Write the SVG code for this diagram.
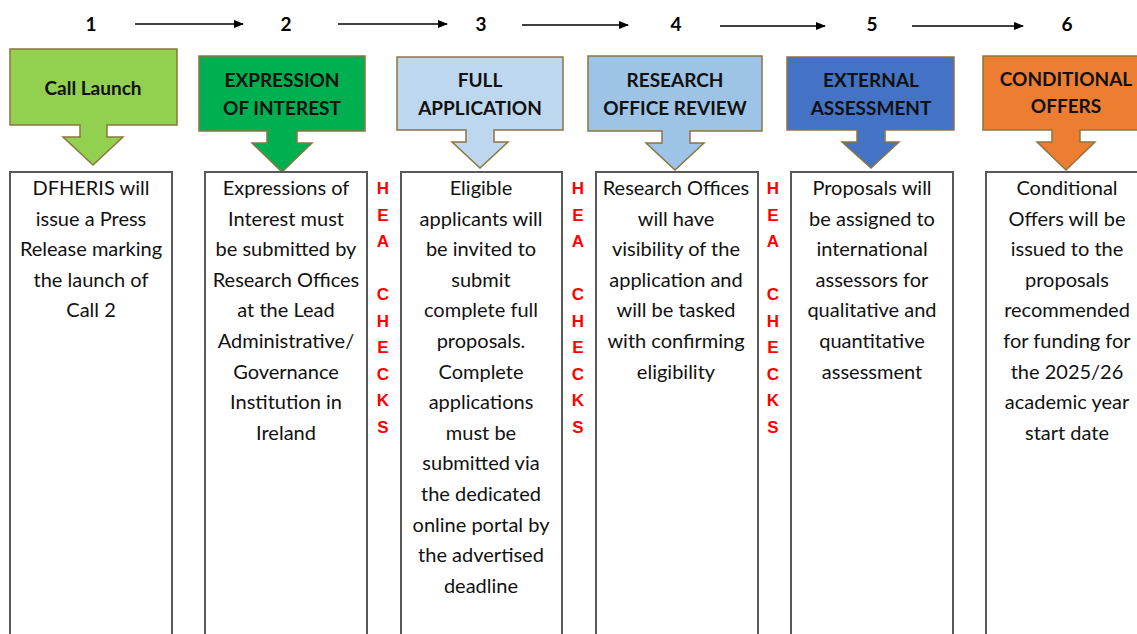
<svg xmlns="http://www.w3.org/2000/svg" width="1137" height="634" viewBox="0 0 1137 634">
<style>
.num{font-family:Lato,"Liberation Sans",sans-serif;font-weight:bold;font-size:19px;fill:#000;text-anchor:middle}
.hd{font-family:Lato,"Liberation Sans",sans-serif;font-weight:bold;font-size:19px;fill:#111;text-anchor:middle}
.co{stroke:#8a7540;stroke-width:1.5}
.box{fill:#fff;stroke:#595959;stroke-width:2}
.bt{font-family:Lato,"Liberation Sans",sans-serif;font-size:20px;fill:#111;text-anchor:middle}
.hea{font-family:"Liberation Sans",sans-serif;font-weight:bold;font-size:17px;fill:#ff0000;text-anchor:middle}
.ln{stroke:#000;stroke-width:1.3;fill:none;marker-end:url(#ah)}
</style>
<defs>
<marker id="ah" markerWidth="10" markerHeight="8" refX="9" refY="4" orient="auto" markerUnits="userSpaceOnUse">
<path d="M0,0 L10,4 L0,8 z" fill="#000"/>
</marker>
</defs>
<rect width="1137" height="634" fill="#fff"/>

<g id="connectors">
<line class="ln" x1="135" y1="24" x2="243" y2="24"/>
<line class="ln" x1="338" y1="24" x2="447" y2="24"/>
<line class="ln" x1="522" y1="25" x2="628" y2="25"/>
<line class="ln" x1="720" y1="26" x2="825" y2="26"/>
<line class="ln" x1="912" y1="26" x2="1023" y2="26"/>
</g>

<g id="step1">
<text class="num" x="91" y="31">1</text>
<path class="co" fill="#92D050" d="M10,49 H177 V125 H107 V137 H123 L93,165 L63,137 H80 V125 H10 Z"/>
<text class="hd" x="93" y="95">Call Launch</text>
<rect class="box" x="10" y="172" width="162" height="470"/>
<text class="bt" x="91" y="195"><tspan x="91">DFHERIS will</tspan><tspan x="91" dy="30.6">issue a Press</tspan><tspan x="91" dy="30.6">Release marking</tspan><tspan x="91" dy="30.6">the launch of</tspan><tspan x="91" dy="30.6">Call 2</tspan></text>
</g>

<g id="step2">
<text class="num" x="286" y="31">2</text>
<path class="co" fill="#00B050" d="M199,56 H365 V131 H297 V143 H312 L282,172 L252,143 H267 V131 H199 Z"/>
<text class="hd" x="282" y="87">EXPRESSION</text>
<text class="hd" x="282" y="115">OF INTEREST</text>
<rect class="box" x="205" y="172" width="162" height="470"/>
<text class="bt" x="286" y="195"><tspan x="286">Expressions of</tspan><tspan x="286" dy="30.6">Interest must</tspan><tspan x="286" dy="30.6">be submitted by</tspan><tspan x="286" dy="30.6">Research Offices</tspan><tspan x="286" dy="30.6">at the Lead</tspan><tspan x="286" dy="30.6">Administrative/</tspan><tspan x="286" dy="30.6">Governance</tspan><tspan x="286" dy="30.6">Institution in</tspan><tspan x="286" dy="30.6">Ireland</tspan></text>
</g>

<g id="check1">
<text class="hea" x="383" y="194"><tspan x="383">H</tspan><tspan x="383" dy="26.5">E</tspan><tspan x="383" dy="26.5">A</tspan><tspan x="383" dy="53">C</tspan><tspan x="383" dy="26.5">H</tspan><tspan x="383" dy="26.5">E</tspan><tspan x="383" dy="26.5">C</tspan><tspan x="383" dy="26.5">K</tspan><tspan x="383" dy="26.5">S</tspan></text>
</g>

<g id="step3">
<text class="num" x="481" y="31">3</text>
<path class="co" fill="#BDD7EE" d="M397,57 H563 V130 H494 V142 H508 L480,168 L452,142 H466 V130 H397 Z"/>
<text class="hd" x="480" y="87">FULL</text>
<text class="hd" x="480" y="115">APPLICATION</text>
<rect class="box" x="401" y="172" width="161" height="470"/>
<text class="bt" x="481" y="195"><tspan x="481">Eligible</tspan><tspan x="481" dy="30.6">applicants will</tspan><tspan x="481" dy="30.6">be invited to</tspan><tspan x="481" dy="30.6">submit</tspan><tspan x="481" dy="30.6">complete full</tspan><tspan x="481" dy="30.6">proposals.</tspan><tspan x="481" dy="30.6">Complete</tspan><tspan x="481" dy="30.6">applications</tspan><tspan x="481" dy="30.6">must be</tspan><tspan x="481" dy="30.6">submitted via</tspan><tspan x="481" dy="30.6">the dedicated</tspan><tspan x="481" dy="30.6">online portal by</tspan><tspan x="481" dy="30.6">the advertised</tspan><tspan x="481" dy="30.6">deadline</tspan></text>
</g>

<g id="check2">
<text class="hea" x="578" y="194"><tspan x="578">H</tspan><tspan x="578" dy="26.5">E</tspan><tspan x="578" dy="26.5">A</tspan><tspan x="578" dy="53">C</tspan><tspan x="578" dy="26.5">H</tspan><tspan x="578" dy="26.5">E</tspan><tspan x="578" dy="26.5">C</tspan><tspan x="578" dy="26.5">K</tspan><tspan x="578" dy="26.5">S</tspan></text>
</g>

<g id="step4">
<text class="num" x="676" y="31">4</text>
<path class="co" fill="#9DC3E6" d="M588,56 H762 V131 H690 V143 H704 L675,170 L646,143 H662 V131 H588 Z"/>
<text class="hd" x="675" y="87">RESEARCH</text>
<text class="hd" x="675" y="115">OFFICE REVIEW</text>
<rect class="box" x="596" y="172" width="162" height="470"/>
<text class="bt" x="676" y="195"><tspan x="676">Research Offices</tspan><tspan x="676" dy="30.6">will have</tspan><tspan x="676" dy="30.6">visibility of the</tspan><tspan x="676" dy="30.6">application and</tspan><tspan x="676" dy="30.6">will be tasked</tspan><tspan x="676" dy="30.6">with confirming</tspan><tspan x="676" dy="30.6">eligibility</tspan></text>
</g>

<g id="check3">
<text class="hea" x="773" y="194"><tspan x="773">H</tspan><tspan x="773" dy="26.5">E</tspan><tspan x="773" dy="26.5">A</tspan><tspan x="773" dy="53">C</tspan><tspan x="773" dy="26.5">H</tspan><tspan x="773" dy="26.5">E</tspan><tspan x="773" dy="26.5">C</tspan><tspan x="773" dy="26.5">K</tspan><tspan x="773" dy="26.5">S</tspan></text>
</g>

<g id="step5">
<text class="num" x="872" y="31">5</text>
<path class="co" fill="#4472C4" d="M787,57 H954 V130 H885 V142 H899 L871,168 L842,142 H857 V130 H787 Z"/>
<text class="hd" x="871" y="87">EXTERNAL</text>
<text class="hd" x="871" y="115">ASSESSMENT</text>
<rect class="box" x="791" y="172" width="162" height="470"/>
<text class="bt" x="872" y="195"><tspan x="872">Proposals will</tspan><tspan x="872" dy="30.6">be assigned to</tspan><tspan x="872" dy="30.6">international</tspan><tspan x="872" dy="30.6">assessors for</tspan><tspan x="872" dy="30.6">qualitative and</tspan><tspan x="872" dy="30.6">quantitative</tspan><tspan x="872" dy="30.6">assessment</tspan></text>
</g>

<g id="step6">
<text class="num" x="1067" y="31">6</text>
<path class="co" fill="#ED7D31" d="M983,56 H1145 V130 H1080 V142 H1095 L1066,170 L1037,142 H1052 V130 H983 Z"/>
<text class="hd" x="1066" y="86">CONDITIONAL</text>
<text class="hd" x="1066" y="113">OFFERS</text>
<rect class="box" x="986" y="172" width="162" height="470"/>
<text class="bt" x="1067" y="195"><tspan x="1067">Conditional</tspan><tspan x="1067" dy="30.6">Offers will be</tspan><tspan x="1067" dy="30.6">issued to the</tspan><tspan x="1067" dy="30.6">proposals</tspan><tspan x="1067" dy="30.6">recommended</tspan><tspan x="1067" dy="30.6">for funding for</tspan><tspan x="1067" dy="30.6">the 2025/26</tspan><tspan x="1067" dy="30.6">academic year</tspan><tspan x="1067" dy="30.6">start date</tspan></text>
</g>
</svg>
